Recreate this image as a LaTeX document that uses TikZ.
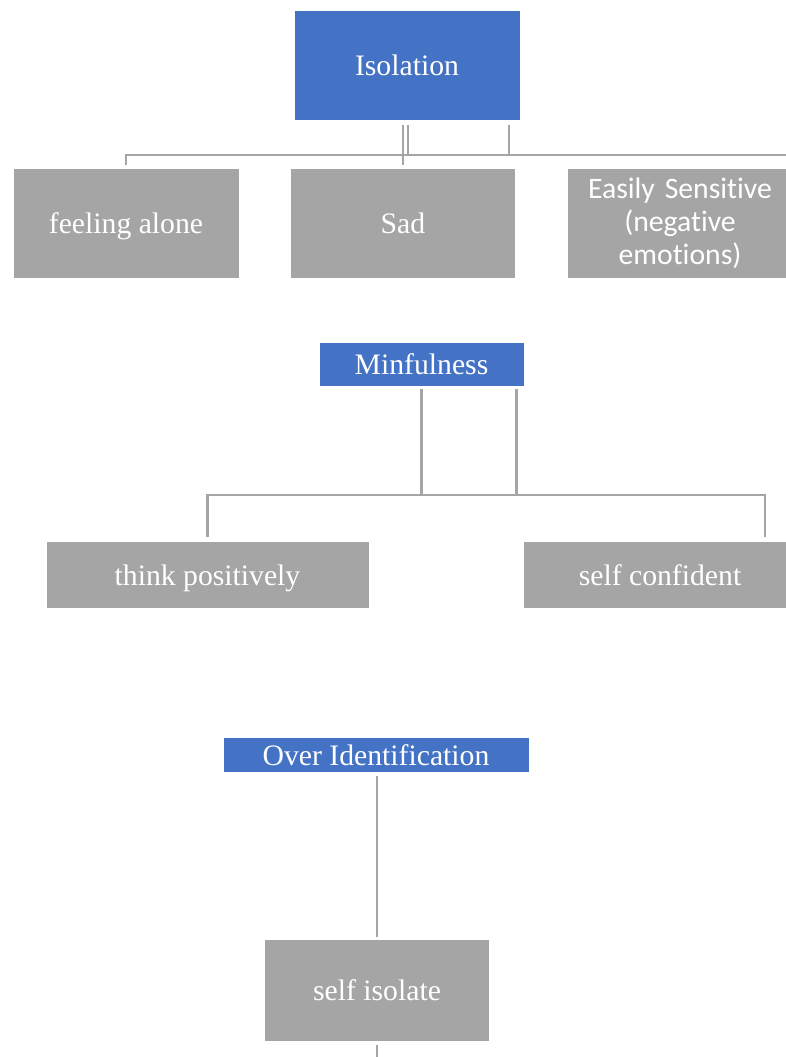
\documentclass[tikz,border=0pt]{standalone}
\usepackage{fontspec}
\setmainfont{Liberation Serif}
\newfontfamily\calibri[Ligatures=NoCommon]{Carlito}
\definecolor{accblue}{HTML}{4472C4}
\definecolor{accgray}{HTML}{A5A5A5}
\begin{document}
\begin{tikzpicture}[x=1pt,y=-1pt,
  box/.style={inner sep=0pt, outer sep=0pt, draw=white, line width=0.8pt, text=white, align=center,
    font=\fontsize{29.7}{33}\selectfont},
  oneline/.style={text height=24pt, text depth=2.5pt},
  topbox/.style={box, oneline, fill=accblue},
  leafbox/.style={box, oneline, fill=accgray},
  conn/.style={draw=accgray, line width=2.5pt}]
\useasboundingbox (0,0) rectangle (785,1057);
% top tree
\node[topbox, minimum width=226, minimum height=110] (iso) at (407,65) {Isolation};
\node[leafbox, minimum width=226, minimum height=110] (fa) at (126,223) {feeling alone};
\node[leafbox, minimum width=225, minimum height=110] (sad) at (403,223) {Sad};
\node[box, fill=accgray, minimum width=226, minimum height=110, text width=210] (es) at (680,223) {\calibri Easily Sensit\kern0pt ive\\(negat\kern0pt ive\\emot\kern0pt ions)};
\coordinate (rend) at (800,155);
\draw[conn] ([yshift=-5pt]iso.south -| sad.north) -- ([yshift=3pt]sad.north);
\draw[conn] ([xshift=5pt,yshift=-5pt]iso.south -| sad.north) |- (fa.north |- rend) -- ([yshift=3pt]fa.north);
\draw[conn] ([xshift=102pt,yshift=-5pt]iso.south) |- ([xshift=5pt]sad.north |- rend) -- (rend);
% middle tree
\node[topbox, minimum width=205, minimum height=44] (min) at (421.5,364) {Minfulness};
\node[leafbox, minimum width=323, minimum height=67] (tp) at (207.5,574.5) {think positively};
\node[leafbox, minimum width=274, minimum height=67] (sc) at (660,574.5) {self confident};
\coordinate (mj) at (422,495);
\draw[conn] ([yshift=-3pt]min.south) -- (min.south |- mj);
\draw[conn] ([xshift=95pt,yshift=-3pt]min.south) |- (mj);
\draw[conn] ([yshift=4pt]tp.north) |- (mj) -| ([xshift=105pt,yshift=4pt]sc.north);
% bottom tree
\node[topbox, minimum width=306, minimum height=35] (oi) at (376,754.5) {Over Identification};
\node[leafbox, minimum width=225, minimum height=102] (si) at (377,990) {self isolate};
\coordinate (bend) at (377,1060);
\draw[conn] ([yshift=-4pt]oi.south -| si.north) -- ([yshift=2pt]si.north);
\draw[conn] ([yshift=-4pt]si.south) -- (bend);
\end{tikzpicture}
\end{document}
